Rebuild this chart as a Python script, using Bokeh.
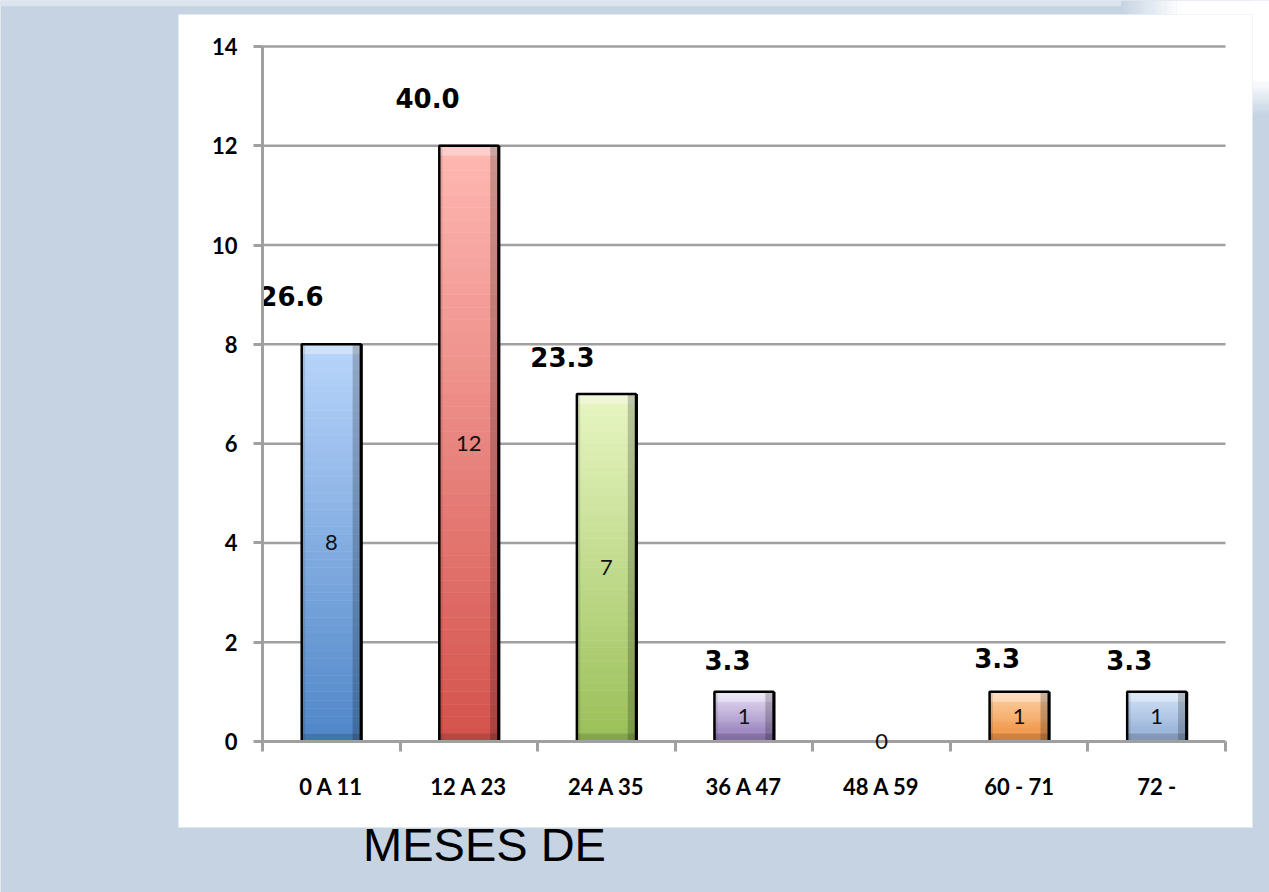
from bokeh.plotting import figure
from bokeh.models import Range1d, LinearAxis, FixedTicker, Label, ColumnDataSource
from bokeh.core.properties import value
from bokeh.embed import file_html
from bokeh.resources import INLINE

# ---- data -------------------------------------------------------------
categories = ["0 A 11", "12 A 23", "24 A 35", "36 A 47", "48 A 59", "60 - 71", "72 -"]
counts = [8, 12, 7, 1, 0, 1, 1]
percent = [26.6, 40.0, 23.3, 3.3, None, 3.3, 3.3]
y_ticks = [0, 2, 4, 6, 8, 10, 12, 14]

# ---- styling ------------------------------------------------------------
top_colors = ["#B9D5FB", "#FFB8B3", "#E8F6C3", "#E5DDF3", "#FDD0A2", "#CFE1F8"]
bottom_colors = ["#4F86C8", "#D4524C", "#9ABF57", "#8E74B6", "#EF8D3A", "#8FAAD2"]
bar_palette_index = [0, 1, 2, 3, 4, 4, 5]
pct_nudge_x = [-0.29, -0.30, -0.32, -0.12, 0.0, -0.16, -0.20]
pct_nudge_y = [0.98, 0.97, 0.74, 0.65, 0.0, 0.69, 0.65]
BAR_W = 0.43
SLICES = 48
GRID = "#A0A0A0"
PAGE_BG = "#C5D3E3"

X0, X1 = -2.4045, 6.8196
Y0, Y1 = -3.0418, 14.927
# white chart panel, in data units of the plot
PANEL = dict(left=-1.1106, right=6.696, bottom=-1.7324, top=14.645)


def mix(c1, c2, t):
    a = [int(c1[i:i + 2], 16) for i in (1, 3, 5)]
    b = [int(c2[i:i + 2], 16) for i in (1, 3, 5)]
    return "#%02x%02x%02x" % tuple(round(a[k] + (b[k] - a[k]) * t) for k in range(3))


p = figure(
    width=1269, height=892,
    x_range=Range1d(X0, X1), y_range=Range1d(Y0, Y1),
    x_axis_location=None, y_axis_location=None,
    min_border=0, min_border_left=0, min_border_right=0, min_border_top=0, min_border_bottom=0,
    background_fill_color=PAGE_BG, border_fill_color=PAGE_BG,
    outline_line_color=None, output_backend="svg", toolbar_location=None,
)
p.xgrid.visible = False
p.ygrid.visible = False

# light band along the top edge
p.quad(left=X0, right=X1, bottom=14.81, top=Y1, fill_color="#DCE4EE", line_color=None)

# soft white glow around the top-right corner of the panel
N = 16
gx0, gx1 = 5.74, 6.17
glow = dict(left=[], right=[], bottom=[], top=[], color=[])
for k in range(N):
    t = (k + 0.5) / N
    glow["left"].append(gx0 + (gx1 - gx0) * k / N)
    glow["right"].append(gx0 + (gx1 - gx0) * (k + 1) / N + 0.002)
    glow["bottom"].append(PANEL["top"])
    glow["top"].append(Y1)
    glow["color"].append(mix(PAGE_BG, "#FFFFFF", t))
gy0, gy1 = 12.61, 13.32
for k in range(N):
    t = (k + 0.5) / N
    glow["left"].append(PANEL["right"])
    glow["right"].append(X1)
    glow["bottom"].append(gy0 + (gy1 - gy0) * k / N)
    glow["top"].append(gy0 + (gy1 - gy0) * (k + 1) / N + 0.005)
    glow["color"].append(mix(PAGE_BG, "#FFFFFF", t))
glow["left"] += [gx1, PANEL["right"]]
glow["right"] += [X1, X1]
glow["bottom"] += [PANEL["top"], gy1]
glow["top"] += [Y1, Y1]
glow["color"] += ["#FFFFFF", "#FFFFFF"]
p.quad(left="left", right="right", bottom="bottom", top="top", source=ColumnDataSource(glow),
       fill_color="color", line_color=None)

# white chart panel
p.quad(**PANEL, fill_color="white", line_color=None)

# horizontal gridlines across the category span
p.segment(x0=-0.5, x1=len(categories) - 0.5, y0=y_ticks[1:], y1=y_ticks[1:],
          line_color=GRID, line_width=2.5)

# ---- bars: vertical gradient built from stacked slices ------------------
sl = dict(left=[], right=[], bottom=[], top=[], color=[])
for i, v in enumerate(counts):
    if v <= 0:
        continue
    ct = top_colors[bar_palette_index[i]]
    cb = bottom_colors[bar_palette_index[i]]
    for k in range(SLICES):
        t = (k + 0.5) / SLICES
        sl["left"].append(i - BAR_W / 2)
        sl["right"].append(i + BAR_W / 2)
        sl["bottom"].append(v * k / SLICES)
        sl["top"].append(v * (k + 1) / SLICES)
        sl["color"].append(mix(cb, ct, t))
p.quad(left="left", right="right", bottom="bottom", top="top", source=ColumnDataSource(sl),
       fill_color="color", line_color="color", line_width=0.6)

xs = [i for i, v in enumerate(counts) if v > 0]
vs = [v for v in counts if v > 0]
lefts = [x - BAR_W / 2 for x in xs]
rights = [x + BAR_W / 2 for x in xs]

# bevel: light top band, shaded bottom band and side strips
p.quad(left=lefts, right=rights, bottom=[v - min(0.2, 0.3 * v) for v in vs], top=vs,
       fill_color="white", fill_alpha=0.33, line_color=None)
p.quad(left=lefts, right=rights, bottom=0, top=[min(0.16, 0.2 * v) for v in vs],
       fill_color="black", fill_alpha=0.14, line_color=None)
p.quad(left=[r - 0.06 for r in rights], right=rights, bottom=0, top=vs,
       fill_color="black", fill_alpha=0.2, line_color=None)
p.quad(left=lefts, right=[l + 0.025 for l in lefts], bottom=0, top=vs,
       fill_color="black", fill_alpha=0.1, line_color=None)
# outline and right-hand shadow edge
p.quad(left=lefts, right=rights, bottom=0, top=vs, fill_color=None,
       line_color="black", line_width=2.5)
p.quad(left=rights, right=[r + 0.014 for r in rights], bottom=0, top=vs,
       fill_color="black", line_color=None)

# ---- labels -------------------------------------------------------------
p.text(x=list(range(len(counts))), y=[v / 2 for v in counts], text=[str(v) for v in counts],
       text_align="center", text_baseline="middle", text_font=value("Lato"),
       text_font_size="22px", text_color="#111111", level="overlay")

pct_src = dict(x=[], y=[], t=[])
for i, (v, pc) in enumerate(zip(counts, percent)):
    if pc is None:
        continue
    pct_src["x"].append(i + pct_nudge_x[i])
    pct_src["y"].append(v + pct_nudge_y[i])
    pct_src["t"].append(f"{pc:.1f}")
p.text(x="x", y="y", text="t", source=ColumnDataSource(pct_src),
       text_align="center", text_baseline="middle", text_font=value("DejaVu Sans"),
       text_font_style="bold", text_font_size="26px", text_color="black")

# ---- axes ---------------------------------------------------------------
yaxis = LinearAxis(
    fixed_location=-0.5, bounds=(0, 14), ticker=FixedTicker(ticks=y_ticks),
    axis_line_color=GRID, axis_line_width=3,
    major_tick_line_color=GRID, major_tick_line_width=3, major_tick_out=9, major_tick_in=0,
    minor_tick_out=0, minor_tick_in=0,
    major_label_text_font="Lato", major_label_text_font_style="bold",
    major_label_text_font_size="22px", major_label_text_color="black",
    major_label_standoff=16,
)
p.add_layout(yaxis, "left")

centers = list(range(len(categories)))
edges = [i - 0.5 for i in range(len(categories) + 1)]
xaxis = LinearAxis(
    fixed_location=0, bounds=(-0.5, len(categories) - 0.5),
    ticker=FixedTicker(ticks=centers, minor_ticks=edges),
    major_label_overrides={i: c for i, c in enumerate(categories)},
    axis_line_color=GRID, axis_line_width=3,
    major_tick_out=0, major_tick_in=0,
    minor_tick_line_color=GRID, minor_tick_line_width=3, minor_tick_out=10, minor_tick_in=0,
    major_label_text_font="Lato", major_label_text_font_style="bold",
    major_label_text_font_size="22px", major_label_text_color="black",
    major_label_standoff=21,
)
p.add_layout(xaxis, "below")

p.add_layout(Label(x=1.1137, y=-2.075, text="MESES DE", text_align="center",
                   text_baseline="alphabetic", text_font="Liberation Sans",
                   text_font_size="47px", text_color="black"))

open("out.html", "w").write(file_html(p, INLINE))
